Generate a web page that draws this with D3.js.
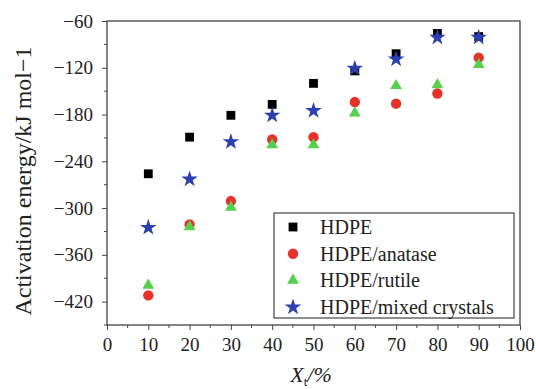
<!DOCTYPE html>
<html>
<head>
<meta charset="utf-8">
<script src="https://cdn.jsdelivr.net/npm/d3@7"></script>
<style>
  body { margin: 0; background: #fff; }
  text { font-family: "Liberation Serif", "DejaVu Serif", serif; fill: #222; }
</style>
</head>
<body>
<svg id="chart" width="536" height="389"></svg>
<script>
// activation energy vs Xt — four HDPE series
const xValues = [10, 20, 30, 40, 50, 60, 70, 80, 90];
const hdpe    = [-256, -209, -181, -167, -140, -124, -102, -76, -80];
const anatase = [-412, -321, -291, -212, -209, -164, -166, -153, -107];
const rutile  = [-399, -324, -299, -219, -219, -178, -143, -142, -116];
const mixed   = [-325, -263, -215, -181, -175, -121, -109, -81, -81];
const xTicks = d3.range(0, 101, 10);
const yTicks = [-420, -360, -300, -240, -180, -120, -60];

const SERIES = [
  { name: 'HDPE', values: hdpe, shape: d3.symbolSquare, size: 78, color: '#000000' },
  { name: 'HDPE/anatase', values: anatase, shape: d3.symbolCircle, size: 85, color: '#e6322a' },
  { name: 'HDPE/rutile', values: rutile, shape: d3.symbolTriangle, size: 60, color: '#55d04a' },
  { name: 'HDPE/mixed crystals', values: mixed, shape: d3.symbolStar, size: 85, color: '#2b3fb0' }
];

const M = { left: 107, right: 520, top: 21, bottom: 325 };
const svg = d3.select('#chart');

const x = d3.scaleLinear().domain([0, 100]).range([M.left, M.right]);
const y = d3.scaleLinear().domain([-450, -60]).range([M.bottom, M.top]);

// frame
svg.append('rect')
  .attr('x', M.left).attr('y', M.top)
  .attr('width', M.right - M.left).attr('height', M.bottom - M.top)
  .attr('fill', 'none').attr('stroke', '#444').attr('stroke-width', 1.3);

// x axis, ticks pointing outward
const xMinor = d3.range(5, 100, 10);
svg.append('g').selectAll('line').data(xMinor).join('line')
  .attr('x1', d => x(d)).attr('x2', d => x(d))
  .attr('y1', M.bottom).attr('y2', M.bottom + 3)
  .attr('stroke', '#444');
const xAxis = svg.append('g')
  .attr('transform', `translate(0,${M.bottom})`)
  .call(d3.axisBottom(x).tickValues(xTicks).tickSizeInner(5).tickSizeOuter(0).tickPadding(8));
xAxis.select('.domain').remove();
xAxis.selectAll('line').attr('stroke', '#444');
xAxis.selectAll('text').attr('font-size', 19).attr('font-family', 'Liberation Serif').attr('fill', '#222');

// y axis
const yMinor = d3.range(-450, -60, 30).filter(d => !yTicks.includes(d));
svg.append('g').selectAll('line').data(yMinor).join('line')
  .attr('x1', M.left).attr('x2', M.left - 3)
  .attr('y1', d => y(d)).attr('y2', d => y(d))
  .attr('stroke', '#444');
const yAxis = svg.append('g')
  .attr('transform', `translate(${M.left},0)`)
  .call(d3.axisLeft(y).tickValues(yTicks).tickSizeInner(5).tickSizeOuter(0).tickPadding(9)
    .tickFormat(d => '\u2212' + Math.abs(d)));
yAxis.select('.domain').remove();
yAxis.selectAll('line').attr('stroke', '#444');
yAxis.selectAll('text').attr('font-size', 19).attr('font-family', 'Liberation Serif').attr('fill', '#222');

// axis titles
svg.append('text')
  .attr('transform', `translate(31,${(M.top + M.bottom) / 2 + 8}) rotate(-90)`)
  .attr('text-anchor', 'middle')
  .attr('font-size', 24)
  .text('Activation energy/kJ mol\u22121');

const xt = svg.append('text')
  .attr('x', 311).attr('y', 382)
  .attr('text-anchor', 'middle')
  .attr('font-size', 22);
xt.append('tspan').attr('font-style', 'italic').text('X');
xt.append('tspan').attr('font-size', 13).attr('dy', 4).text('t');
xt.append('tspan').attr('dy', -4).attr('font-style', 'italic').text('/%');

// points
SERIES.forEach(s => {
  svg.append('g').selectAll('path').data(s.values).join('path')
    .attr('transform', (d, i) => `translate(${x(xValues[i])},${y(d)})`)
    .attr('d', d3.symbol().type(s.shape).size(s.size))
    .attr('fill', s.color);
});

// legend
const lg = svg.append('g');
lg.append('rect')
  .attr('x', 274).attr('y', 213).attr('width', 240).attr('height', 105)
  .attr('fill', '#fff').attr('stroke', '#444').attr('stroke-width', 1.2);
SERIES.forEach((s, i) => {
  const cy = 227 + i * 26.7;
  lg.append('path')
    .attr('transform', `translate(293,${cy})`)
    .attr('d', d3.symbol().type(s.shape).size(s.size))
    .attr('fill', s.color);
  lg.append('text')
    .attr('x', 320).attr('y', cy + 7)
    .attr('font-size', 20)
    .text(s.name);
});
</script>
</body>
</html>
